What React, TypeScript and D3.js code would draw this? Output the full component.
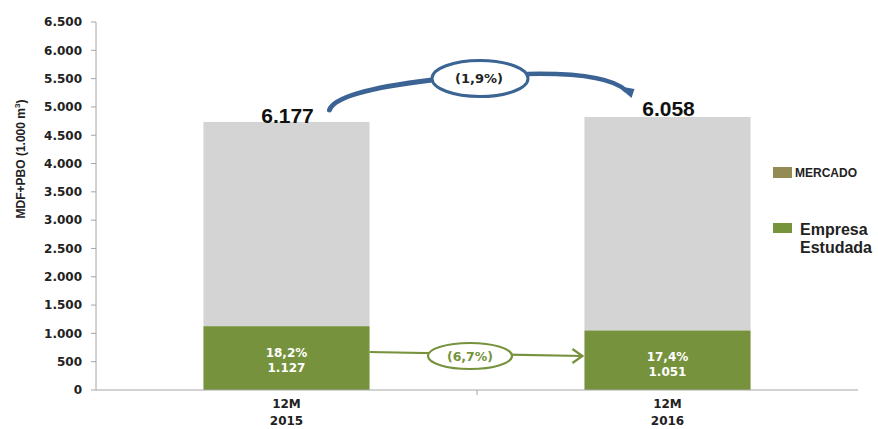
import React from "react";
import * as d3 from "d3";

const categories = ["12M\n2015", "12M\n2016"];
const empresa = [1127, 1051];
const mercado = [3608, 3772];
const totalLabels = ["6.177", "6.058"];
const shareLabels = ["18,2%", "17,4%"];
const empresaLabels = ["1.127", "1.051"];
const yTicks = [0, 500, 1000, 1500, 2000, 2500, 3000, 3500, 4000, 4500, 5000, 5500, 6000, 6500];
const fmt = (v: number) => (v >= 1000 ? `${Math.floor(v / 1000)}.${String(v % 1000).padStart(3, "0")}` : `${v}`);

export default function App() {
  const W = 878, H = 429;
  const x0 = 96, x1 = 858, yTop = 22, yBot = 390;
  const y = d3.scaleLinear().domain([0, 6500]).range([yBot, yTop]);
  const x = d3.scaleBand().domain(categories).range([x0, x1]).paddingInner(0.564).paddingOuter(0.282);
  const bw = x.bandwidth();
  const font = "'Liberation Sans', Arial, sans-serif";
  const wide = "'DejaVu Sans', sans-serif";
  const blue = "#3b6494";
  const green = "#76923c";
  const c0 = x(categories[0])! + bw / 2;
  const c1 = x(categories[1])! + bw / 2;
  const r0 = c0 + bw / 2;
  const l1 = c1 - bw / 2;

  return (
    <svg width={W} height={H} style={{ position: "fixed", left: 0, top: 0, background: "#fff" }} fontFamily={font}>
      {/* y axis */}
      <line x1={x0} x2={x0} y1={yTop} y2={yBot} stroke="#a6a6a6" />
      {yTicks.map((t) => (
        <g key={t}>
          <line x1={x0 - 5} x2={x0} y1={y(t)} y2={y(t)} stroke="#a6a6a6" />
          <text x={x0 - 14} y={y(t)} dy="0.36em" textAnchor="end" fontSize={12} fontWeight="bold" fill="#222" fontFamily={wide}>
            {fmt(t)}
          </text>
        </g>
      ))}
      <text transform={`translate(25,${(yTop + yBot) / 2 - 47}) rotate(-90)`} textAnchor="middle" fontSize={12} fontWeight="bold" fill="#222">
        MDF+PBO (1.000 m<tspan dy="-5" fontSize={8}>3</tspan><tspan dy="5">)</tspan>
      </text>

      {/* bars */}
      {categories.map((c, i) => {
        const bx = x(c)!;
        const cx = bx + bw / 2;
        const top = y(empresa[i] + mercado[i]);
        return (
          <g key={c}>
            <rect x={bx} y={top} width={bw} height={y(empresa[i]) - top} fill="#d4d4d4" />
            <rect x={bx} y={y(empresa[i])} width={bw} height={yBot - y(empresa[i])} fill={green} />
            <text x={cx} y={y(empresa[i]) + 31} textAnchor="middle" fontSize={12} fontWeight="bold" fill="#fff" fontFamily={wide}>{shareLabels[i]}</text>
            <text x={cx} y={y(empresa[i]) + 46} textAnchor="middle" fontSize={12} fontWeight="bold" fill="#fff" fontFamily={wide}>{empresaLabels[i]}</text>
            <text x={cx + 1} y={top + (i === 0 ? 1 : -1)} textAnchor="middle" fontSize={21} fontWeight="bold" fill="#111">{totalLabels[i]}</text>
            {c.split("\n").map((s, k) => (
              <text key={k} x={cx} y={408 + k * 17} textAnchor="middle" fontSize={12} fontWeight="bold" fill="#222" fontFamily={wide}>{s}</text>
            ))}
          </g>
        );
      })}

      {/* x axis */}
      <line x1={x0} x2={x1} y1={yBot} y2={yBot} stroke="#a6a6a6" />
      <line x1={(x0 + x1) / 2} x2={(x0 + x1) / 2} y1={yBot} y2={yBot + 5} stroke="#a6a6a6" />

      {/* blue growth arrow */}
      <path d={`M${c0 + 43},110 C${c0 + 48},95 ${c0 + 95},86 432,80`} fill="none" stroke={blue} strokeWidth={5} strokeLinecap="round" />
      <path d={`M527,74 C575,73 612,77 ${c1 - 41},91`} fill="none" stroke={blue} strokeWidth={4.5} />
      <path d={`M${c1 - 50},86 L${c1 - 33},89 L${c1 - 36},98 Z`} fill={blue} />
      <ellipse cx={480} cy={78.5} rx={48} ry={18} fill="#fff" stroke={blue} strokeWidth={3} />
      <text x={479} y={78.5} dy="0.36em" textAnchor="middle" fontSize={13} fontWeight="bold" fill="#222" fontFamily={wide}>(1,9%)</text>

      {/* green arrow */}
      <line x1={r0} x2={l1 - 2} y1={352} y2={356} stroke={green} strokeWidth={2.2} />
      <path d={`M${l1 - 12},349 L${l1 - 2},356 L${l1 - 12},363`} fill="none" stroke={green} strokeWidth={2.2} />
      <ellipse cx={470} cy={356} rx={42} ry={13} fill="#fff" stroke={green} strokeWidth={2.2} />
      <text x={470} y={356} dy="0.36em" textAnchor="middle" fontSize={12.5} fontWeight="bold" fill={green} fontFamily={wide}>(6,7%)</text>

      {/* legend */}
      <rect x={773} y={167} width={19} height={11} fill="#948a54" />
      <text x={795} y={177} fontSize={12} fontWeight="bold" fill="#222">MERCADO</text>
      <rect x={773} y={223} width={19} height={10} fill="#77933c" />
      <text x={800} y={235} fontSize={16} fontWeight="bold" fill="#222">Empresa</text>
      <text x={800} y={253} fontSize={16} fontWeight="bold" fill="#222">Estudada</text>
    </svg>
  );
}
